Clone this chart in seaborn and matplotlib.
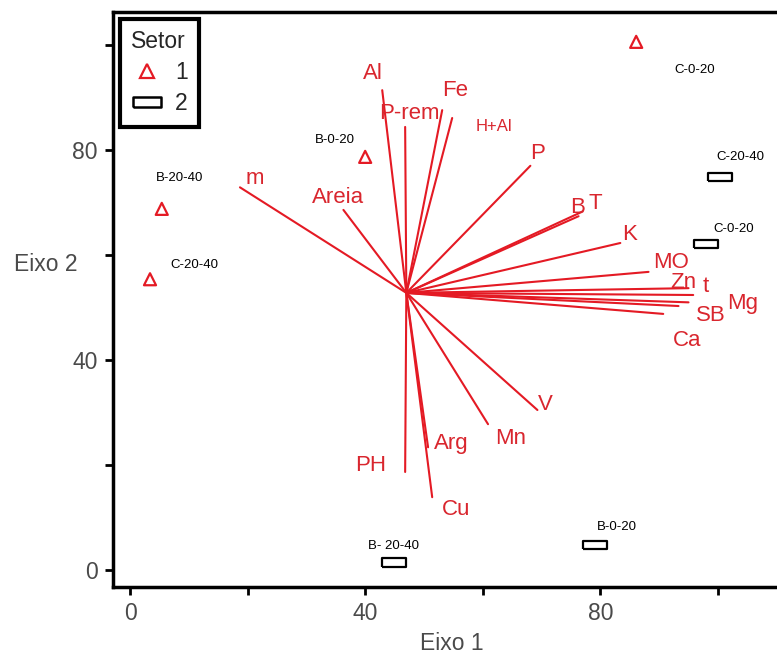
import numpy as np
import pandas as pd
import matplotlib
matplotlib.use("Agg")
import matplotlib.pyplot as plt
from matplotlib.lines import Line2D
import seaborn as sns

# ---- data ----
sample_labels = ["C-0-20", "B-0-20", "B-20-40", "C-20-40",
                 "C-20-40", "C-0-20", "B-0-20", "B- 20-40"]
sample_setor = [1, 1, 1, 1, 2, 2, 2, 2]
sample_x = [86.1, 40.0, 5.4, 3.4, 100.3, 97.9, 79.1, 44.9]
sample_y = [100.6, 78.7, 68.8, 55.4, 74.9, 62.1, 4.8, 1.5]

vector_names = ["Al", "P-rem", "Fe", "H+Al", "P", "B", "T", "K", "MO", "Zn",
                "t", "Mg", "SB", "Ca", "V", "Mn", "Arg", "Cu", "PH", "m", "Areia"]
vector_x = [42.9, 46.8, 53.1, 54.8, 68.1, 76.3, 77.0, 83.4, 88.2, 95.0,
            95.8, 95.0, 93.3, 90.7, 69.3, 60.9, 50.7, 51.4, 46.8, 18.7, 36.3]
vector_y = [91.4, 84.4, 87.6, 86.1, 77.0, 67.4, 68.3, 62.3, 56.8, 53.7,
            52.4, 51.0, 50.3, 48.8, 30.5, 27.8, 23.4, 13.9, 18.7, 72.9, 68.6]
origin_x = 47.0
origin_y = 52.8

x_ticks = [0, 20, 40, 60, 80, 100]
x_ticklabels = ["0", "", "40", "", "80", ""]
y_ticks = [0, 20, 40, 60, 80, 100]
y_ticklabels = ["0", "", "40", "", "80", ""]

# ---- style ----
sns.set_theme(style="ticks")
plt.rcParams["font.family"] = ["Liberation Sans", "DejaVu Sans"]
RED = "#e41a24"
TXT_RED = "#d9262e"
GRAY = "#4a4a4a"

fig = plt.figure(figsize=(7.77, 6.62), dpi=100)
ax = fig.add_axes([0.1454, 0.1133, 1.017 - 0.1454, 0.982 - 0.1133])

# vectors
vec_rows = []
for n, vx, vy in zip(vector_names, vector_x, vector_y):
    vec_rows.append({"name": n, "x": origin_x, "y": origin_y, "ord": 0})
    vec_rows.append({"name": n, "x": vx, "y": vy, "ord": 1})
vdf = pd.DataFrame(vec_rows)
sns.lineplot(data=vdf, x="x", y="y", units="name", estimator=None, sort=False,
             color=RED, linewidth=1.5, ax=ax, legend=False)

label_off = {
    "Al": (-7, 12), "P-rem": (3, 10), "Fe": (9, 14), "H+Al": (30, -6),
    "P": (5, 9), "B": (-1, 6), "T": (9, 6), "K": (7, 6), "MO": (16, 7),
    "Zn": (-4, 4), "t": (9, 6), "Mg": (39, -1), "SB": (23, -7), "Ca": (17, -19),
    "V": (6, 4), "Mn": (16, -10), "Arg": (17, 3), "Cu": (17, -9), "PH": (-25, 5),
    "m": (11, 6), "Areia": (-4, 9),
}
for n, vx, vy in zip(vector_names, vector_x, vector_y):
    fs = 12 if n == "H+Al" else 16
    ax.annotate(n, (vx, vy), xytext=label_off[n], textcoords="offset points",
                ha="center", va="center", color=TXT_RED, fontsize=fs)

# samples
sdf = pd.DataFrame({"x": sample_x, "y": sample_y, "Setor": sample_setor,
                    "label": sample_labels})
rect = [(-1, -0.35), (1, -0.35), (1, 0.35), (-1, 0.35), (-1, -0.35)]
sns.scatterplot(data=sdf[sdf.Setor == 1], x="x", y="y", marker="^", s=75,
                facecolor="none", edgecolor=RED, linewidth=1.6, ax=ax, legend=False)
sns.scatterplot(data=sdf[sdf.Setor == 2], x="x", y="y", marker=rect, s=300,
                facecolor="none", edgecolor="black", linewidth=1.6, ax=ax, legend=False)

pt_off = [(42, -20), (-22, 12), (13, 22), (32, 10), (15, 14), (20, 11), (16, 13), (0, 12)]
for (lab, px, py), off in zip(zip(sample_labels, sample_x, sample_y), pt_off):
    ax.annotate(lab, (px, py), xytext=off, textcoords="offset points",
                ha="center", va="center", fontsize=9.5, color="black")

# axes
ax.set_xlim(-2.9, 112.3)
ax.set_ylim(-3.2, 106.3)
ax.set_xticks(x_ticks)
ax.set_xticklabels(x_ticklabels)
ax.set_yticks(y_ticks)
ax.set_yticklabels(y_ticklabels)
ax.tick_params(axis="both", direction="out", length=6, width=2, color="black",
               labelsize=16.5, labelcolor=GRAY, pad=5)
for sp in ax.spines.values():
    sp.set_linewidth(2.5)
    sp.set_color("black")
ax.set_xlabel("Eixo 1", fontsize=16.5, color=GRAY, labelpad=5)
ax.set_ylabel("Eixo 2", fontsize=16.5, color=GRAY, rotation=0, ha="center", va="center")
ax.yaxis.set_label_coords(-0.1, 0.561)

handles = [
    Line2D([], [], marker="^", ls="", mfc="none", mec=RED, mew=1.6, ms=10),
    Line2D([], [], marker=rect, ls="", mfc="none", mec="black", mew=1.8, ms=20),
]
leg = ax.legend(handles, ["1", "2"], title="Setor", loc="upper left",
                bbox_to_anchor=(0.0, 1.0), fancybox=False, frameon=True,
                framealpha=1, fontsize=16.5, title_fontsize=16.5,
                handletextpad=0.5, borderpad=0.5, labelspacing=0.35,
                handlelength=1.4, borderaxespad=0.3)
leg.get_frame().set_edgecolor("black")
leg.get_frame().set_linewidth(3)
leg._legend_box.align = "left"

fig.savefig("out.png", dpi=100, facecolor="white")
